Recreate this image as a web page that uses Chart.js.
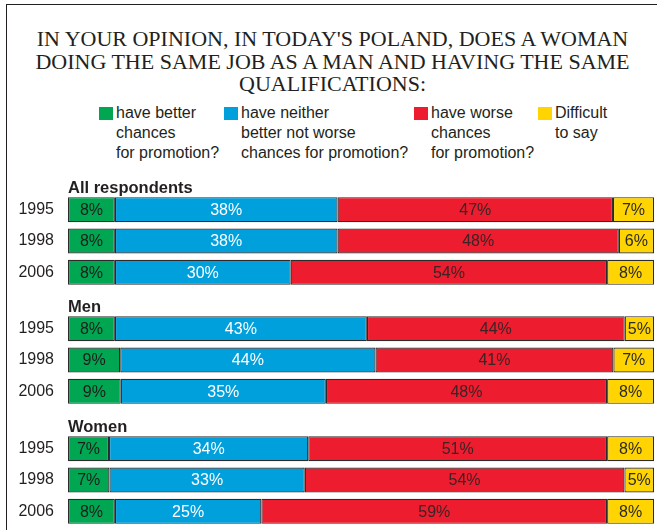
<!DOCTYPE html>
<html>
<head>
<meta charset="utf-8">
<script src="https://cdn.jsdelivr.net/npm/chart.js@4.4.0/dist/chart.umd.min.js"></script>
<style>
  body { margin: 0; width: 657px; height: 530px; overflow: hidden; background: #fff; position: relative;
         font-family: "Liberation Sans", Arial, sans-serif; color: #231f20; }
  #frame { position: absolute; left: 6px; top: 4px; width: 720px; height: 600px;
           border-left: 1.5px solid #231f20; border-top: 1.5px solid #231f20; }
  #title { position: absolute; left: 0; top: 28px; width: 665px; text-align: center;
           font-family: "Liberation Serif", "Times New Roman", serif; font-size: 22px; line-height: 22.5px; }
  .item { position: absolute; top: 103px; font-size: 16px; line-height: 20px; }
  .sw { position: absolute; top: 4px; width: 14px; height: 13px; }
  .item span.txt { display: block; padding-left: 17px; }
  .wrap { position: absolute; left: 0; width: 657px; height: 120px; }
</style>
</head>
<body>
<div id="frame"></div>
<div id="title">IN YOUR OPINION, IN TODAY'S POLAND, DOES A WOMAN<br>DOING THE SAME JOB AS A MAN AND HAVING THE SAME<br>QUALIFICATIONS:</div>
<div id="legend"></div>
<div class="wrap" style="top:170px"><canvas id="c0"></canvas></div>
<div class="wrap" style="top:289px"><canvas id="c1"></canvas></div>
<div class="wrap" style="top:409px"><canvas id="c2"></canvas></div>
<script>
// rows: All respondents 1995/1998/2006, Men 1995/1998/2006, Women 1995/1998/2006
var years = ['1995', '1998', '2006'];
var groupNames = ['All respondents', 'Men', 'Women'];
var seriesNames = [
  ['have better', 'chances', 'for promotion?'],
  ['have neither', 'better not worse', 'chances for promotion?'],
  ['have worse', 'chances', 'for promotion?'],
  ['Difficult', 'to say']
];
var better    = [8, 8, 8,    8, 9, 9,    7, 7, 8];
var neither   = [38, 38, 30, 43, 44, 35, 34, 33, 25];
var worse     = [47, 48, 54, 44, 41, 48, 51, 54, 59];
var difficult = [7, 6, 8,    5, 7, 8,    8, 5, 8];

var colors = ['#00a651', '#00a0dd', '#ed1c2e', '#ffd400'];
var labelColors = ['#1d1d1b', '#ffffff', '#3b2326', '#2b2b2b'];
var legendX = [99, 224, 414, 538];

Chart.defaults.font.family = '"Liberation Sans", Arial, sans-serif';

// html legend, labels run over several lines
var legend = document.getElementById('legend');
seriesNames.forEach(function (lines, i) {
  var d = document.createElement('div');
  d.className = 'item';
  d.style.left = legendX[i] + 'px';
  d.innerHTML = '<div class="sw" style="background:' + colors[i] + '"></div><span class="txt">' + lines.join('<br>') + '</span>';
  legend.appendChild(d);
});

var series = [better, neither, worse, difficult];

var valueLabels = {
  id: 'valueLabels',
  afterDatasetsDraw: function (chart) {
    var ctx = chart.ctx;
    ctx.save();
    ctx.font = '16px "Liberation Sans", Arial, sans-serif';
    ctx.textAlign = 'center';
    ctx.textBaseline = 'middle';
    chart.data.datasets.forEach(function (ds, i) {
      chart.getDatasetMeta(i).data.forEach(function (bar, j) {
        ctx.fillStyle = labelColors[i];
        ctx.fillText(ds.values[j] + '%', (bar.x + bar.base) / 2, bar.y + 1);
      });
    });
    ctx.restore();
  }
};

function makeChart(g) {
  var rows = [g * 3, g * 3 + 1, g * 3 + 2];
  var datasets = series.map(function (s, i) {
    var vals = rows.map(function (r) { return s[r]; });
    return {
      label: seriesNames[i].join(' '),
      values: vals,
      // each bar is drawn as share of its own row total (some rows add to 99 / 101)
      data: rows.map(function (r) {
        var total = better[r] + neither[r] + worse[r] + difficult[r];
        return s[r] / total * 100;
      }),
      backgroundColor: colors[i],
      borderColor: '#2d2a2b',
      borderWidth: 1.2,
      borderSkipped: false,
      barPercentage: 0.8,
      categoryPercentage: 1.0
    };
  });

  var groupLabel = {
    id: 'groupLabel',
    afterDraw: function (chart) {
      var ctx = chart.ctx;
      ctx.save();
      ctx.font = 'bold 16.5px "Liberation Sans", Arial, sans-serif';
      ctx.fillStyle = '#231f20';
      ctx.textAlign = 'left';
      ctx.textBaseline = 'alphabetic';
      ctx.fillText(groupNames[g], chart.chartArea.left, chart.chartArea.top - 1.5);
      ctx.restore();
    }
  };

  return new Chart(document.getElementById('c' + g), {
    type: 'bar',
    data: { labels: years, datasets: datasets },
    options: {
      indexAxis: 'y',
      responsive: true,
      maintainAspectRatio: false,
      animation: false,
      layout: { padding: { top: 24, bottom: 2, left: 0, right: 3 } },
      plugins: {
        legend: { display: false },
        tooltip: { enabled: false }
      },
      scales: {
        x: { stacked: true, min: 0, max: 100, display: false },
        y: {
          stacked: true,
          grid: { display: false, drawTicks: false },
          border: { display: false },
          ticks: { padding: 14, color: '#231f20', font: { size: 16 } },
          afterFit: function (scale) {
            scale.width = 68;
            // labels sit inside the rows, no extra room above/below
            scale.paddingTop = 0;
            scale.paddingBottom = 0;
          }
        }
      }
    },
    plugins: [valueLabels, groupLabel]
  });
}

groupNames.forEach(function (name, g) { makeChart(g); });
</script>
</body>
</html>
